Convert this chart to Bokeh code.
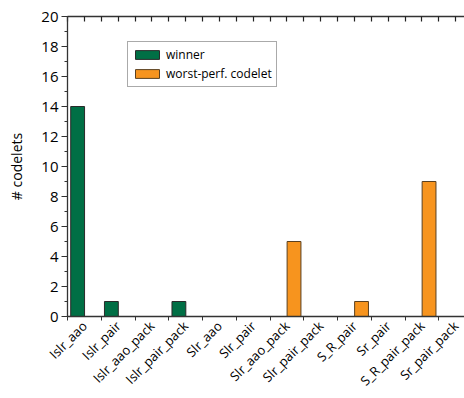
import math
from bokeh.plotting import figure
from bokeh.models import (ColumnDataSource, Range1d, FixedTicker, LinearAxis,
                          Legend, LegendItem)
from bokeh.embed import file_html
from bokeh.resources import INLINE

categories = ["Islr_aao", "Islr_pair", "Islr_aao_pack", "Islr_pair_pack",
              "Slr_aao", "Slr_pair", "Slr_aao_pack", "Slr_pair_pack",
              "S_R_pair", "Sr_pair", "S_R_pair_pack", "Sr_pair_pack"]
winner = [14, 1, 0, 1, 0, 0, 0, 0, 0, 0, 0, 0]
worst = [0, 0, 0, 0, 0, 0, 5, 0, 1, 0, 9, 0]
series_names = ["winner", "worst-perf. codelet"]

FONT = "Open Sans"
AX = "#333333"

idx = list(range(len(categories)))
src_w = ColumnDataSource(dict(x=[i - 0.2 for i in idx], top=winner))
src_o = ColumnDataSource(dict(x=[i + 0.21 for i in idx], top=worst))

p = figure(width=464, height=398, output_backend="svg", toolbar_location=None,
           x_range=Range1d(-0.5, 11.26), y_range=Range1d(0, 20),
           x_axis_location=None, y_axis_location=None,
           min_border_left=67, min_border_top=16, min_border_right=0,
           min_border_bottom=82)
p.outline_line_color = None
p.xgrid.visible = False
p.ygrid.visible = False
p.background_fill_color = "white"
p.border_fill_color = "white"

r1 = p.vbar(x="x", top="top", width=0.41, bottom=0, source=src_w,
            fill_color="#006F45", line_color="#2a2a2a", line_width=1)
r2 = p.vbar(x="x", top="top", width=0.41, bottom=0, source=src_o,
            fill_color="#F7941E", line_color="#5a4020", line_width=1)

# left axis
ya = LinearAxis(ticker=FixedTicker(ticks=list(range(0, 21, 2)),
                                   minor_ticks=list(range(0, 21))))
ya.axis_label = "# codelets"
ya.axis_label_text_font = FONT
ya.axis_label_text_font_size = "14px"
ya.axis_label_text_font_style = "normal"
ya.axis_label_text_color = "#000000"
ya.axis_label_standoff = 12
ya.major_label_text_font = FONT
ya.major_label_text_font_size = "15px"
ya.major_label_text_color = "#000000"
ya.major_label_standoff = 3
ya.major_tick_out = 6
ya.major_tick_in = 0
ya.minor_tick_out = 3
ya.minor_tick_in = 0
ya.axis_line_color = AX
ya.axis_line_width = 1.3
ya.major_tick_line_color = AX
ya.minor_tick_line_color = AX
p.add_layout(ya, "left")

# bottom axis
xa = LinearAxis(ticker=FixedTicker(ticks=idx,
                                   minor_ticks=[i - 0.5 for i in range(len(categories) + 1)]))
xa.major_label_overrides = {i: c for i, c in zip(idx, categories)}
xa.major_label_orientation = math.pi / 4
xa.major_label_text_font = FONT
xa.major_label_text_font_size = "13px"
xa.major_label_text_color = "#000000"
xa.major_label_standoff = 3
xa.major_tick_out = 0
xa.major_tick_in = 0
xa.minor_tick_out = 4
xa.minor_tick_in = 0
xa.axis_line_color = AX
xa.axis_line_width = 1.3
xa.minor_tick_line_color = AX
p.add_layout(xa, "below")

# top axis (no labels, short inward ticks every half category)
top_ticks = [i * 0.5 - 0.5 for i in range(2 * len(categories) + 1)]
ta = LinearAxis(ticker=FixedTicker(ticks=[], minor_ticks=top_ticks))
ta.major_label_standoff = 0
ta.major_tick_in = 0
ta.major_tick_out = 0
ta.minor_tick_in = 5
ta.minor_tick_out = 0
ta.axis_line_color = AX
ta.axis_line_width = 1.3
ta.minor_tick_line_color = "#222222"
ta.minor_tick_line_width = 1.2
p.add_layout(ta, "above")

legend = Legend(items=[LegendItem(label=series_names[0], renderers=[r1]),
                       LegendItem(label=series_names[1], renderers=[r2])],
                location=(60, 229), orientation="vertical")
legend.label_text_font = FONT
legend.label_text_font_size = "12px"
legend.label_text_color = "#000000"
legend.glyph_width = 30
legend.glyph_height = 11
legend.label_height = 11
legend.label_standoff = 4
legend.spacing = 2
legend.padding = 4
legend.margin = 0
legend.border_line_color = "#555555"
legend.border_line_width = 1
legend.background_fill_alpha = 1
p.add_layout(legend, "center")

open("out.html", "w").write(file_html(p, INLINE))
